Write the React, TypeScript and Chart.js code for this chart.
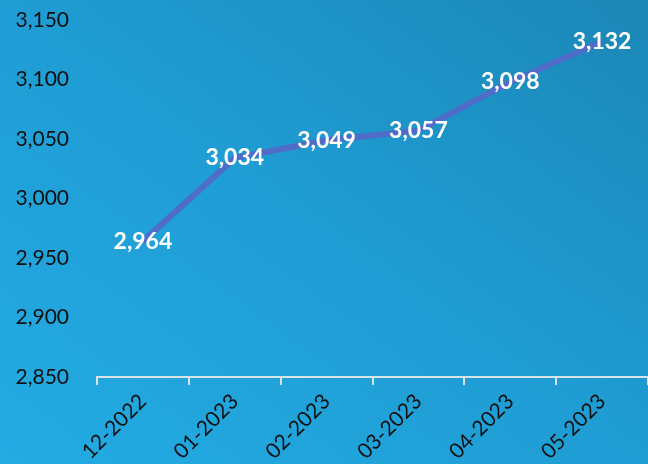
import React, { useEffect, useRef } from "react";
import { Chart, registerables } from "chart.js";

Chart.register(...registerables);

const categories = ["12-2022", "01-2023", "02-2023", "03-2023", "04-2023", "05-2023"];
const values = [2964, 3034, 3049, 3057, 3098, 3132];
const yMin = 2850;
const yMax = 3150;
const yStep = 50;

const fmt = (v: number) => v.toLocaleString("en-US");

const labelPlugin = {
  id: "pointLabels",
  afterDatasetsDraw(chart: any) {
    const ctx = chart.ctx;
    const meta = chart.getDatasetMeta(0);
    ctx.save();
    ctx.font = "bold 23px Lato";
    ctx.fillStyle = "#ffffff";
    ctx.textAlign = "center";
    ctx.textBaseline = "middle";
    meta.data.forEach((pt: any, i: number) => {
      ctx.fillText(fmt(values[i]), pt.x, pt.y);
    });
    ctx.restore();
  },
};

export default function App() {
  const ref = useRef<HTMLCanvasElement>(null);
  useEffect(() => {
    document.body.style.margin = "0";
    const chart = new Chart(ref.current!, {
      type: "line",
      data: {
        labels: categories,
        datasets: [
          {
            data: values,
            borderColor: "#4f6cc9",
            borderWidth: 6,
            pointRadius: 0,
            tension: 0,
            fill: false,
          },
        ],
      },
      options: {
        animation: false,
        responsive: false,
        devicePixelRatio: 1,
        layout: { padding: { top: 0, right: 0, bottom: 0, left: 0 } },
        plugins: { legend: { display: false }, tooltip: { enabled: false } },
        scales: {
          x: {
            offset: true,
            grid: {
              offset: true,
              drawOnChartArea: false,
              drawTicks: true,
              tickLength: 8,
              color: "#d8e4ea",
              lineWidth: 2,
            },
            border: { display: true, color: "#d8e4ea", width: 2 },
            ticks: {
              color: "#111111",
              font: { family: "Lato", size: 21 },
              minRotation: 45,
              maxRotation: 45,
              padding: 4,
            },
            afterFit: (s: any) => {
              s.height = 87;
              s.paddingLeft = 0;
              s.paddingRight = 0;
            },
          },
          y: {
            min: yMin,
            max: yMax,
            grid: { display: false, drawTicks: false },
            border: { display: false },
            ticks: {
              stepSize: yStep,
              color: "#111111",
              font: { family: "Lato", size: 21 },
              padding: 28,
              callback: (v: any) => fmt(Number(v)),
            },
            afterFit: (s: any) => {
              s.width = 97;
              s.paddingTop = 20;
            },
          },
        },
      },
      plugins: [labelPlugin],
    });
    return () => chart.destroy();
  }, []);
  return (
    <div
      style={{
        position: "absolute",
        left: 0,
        top: 0,
        width: 648,
        height: 464,
        background: "linear-gradient(to top right, #23abe3 0%, #1f9dd4 50%, #1b87b7 100%)",
      }}
    >
      <canvas ref={ref} width={648} height={464} />
    </div>
  );
}
